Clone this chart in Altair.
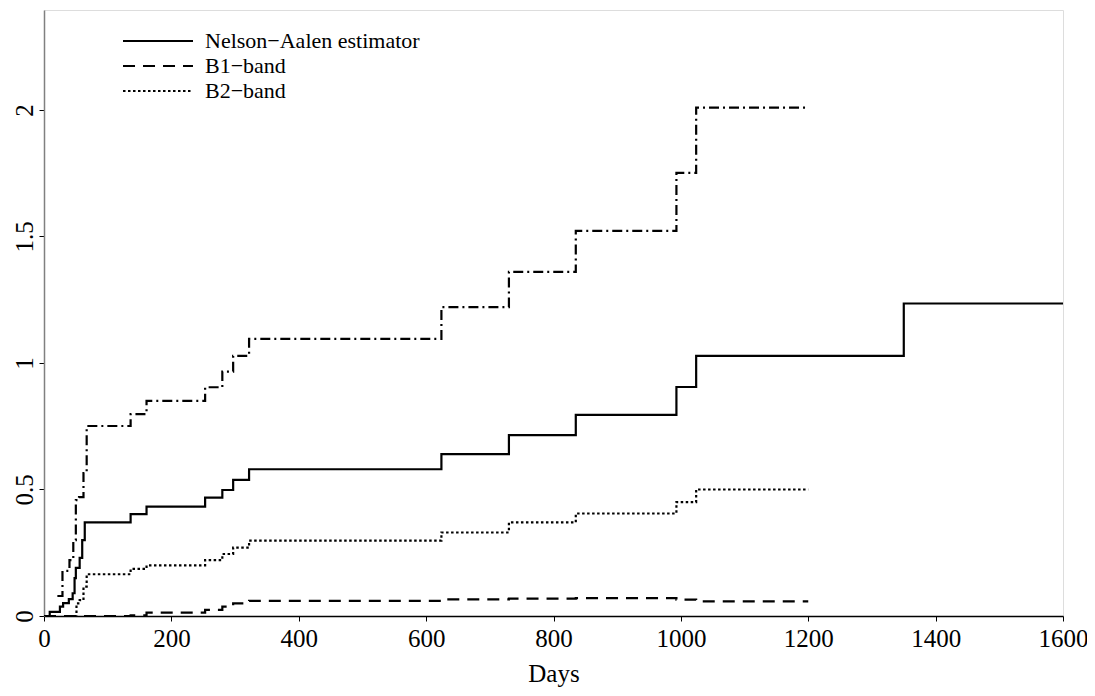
import altair as alt
import pandas as pd

# Nelson-Aalen estimator (step function)
na_days = [0, 9, 25, 30, 39, 45, 48, 50, 56, 60, 64, 136, 161, 253, 280, 297, 322, 624, 730, 835, 993, 1024, 1350, 1600]
na_vals = [0, 0.016, 0.037, 0.051, 0.067, 0.09, 0.15, 0.19, 0.23, 0.30, 0.37, 0.403, 0.432, 0.468, 0.498, 0.538, 0.58, 0.64, 0.715, 0.795, 0.905, 1.028, 1.235, 1.235]

# B1-band lower limit
b1_days = [0, 136, 161, 253, 280, 297, 322, 624, 730, 835, 993, 1024, 1200]
b1_vals = [0, 0.003, 0.013, 0.024, 0.037, 0.05, 0.06, 0.066, 0.069, 0.071, 0.065, 0.058, 0.058]

# B2-band lower limit
b2_days = [48, 51, 56, 62, 67, 136, 161, 253, 280, 297, 322, 624, 730, 835, 993, 1024, 1200]
b2_vals = [0, 0.05, 0.063, 0.116, 0.165, 0.186, 0.2, 0.221, 0.245, 0.27, 0.298, 0.33, 0.37, 0.405, 0.45, 0.50, 0.50]

# Upper limit of the bands
up_days = [21, 29, 40, 46, 50, 55, 62, 67, 136, 161, 253, 280, 297, 322, 624, 730, 835, 993, 1024, 1200]
up_vals = [0.079, 0.178, 0.221, 0.30, 0.458, 0.47, 0.565, 0.751, 0.798, 0.85, 0.904, 0.966, 1.028, 1.095, 1.221, 1.36, 1.522, 1.751, 2.009, 2.009]

x_ticks = [0, 200, 400, 600, 800, 1000, 1200, 1400, 1600]
y_ticks = [0, 0.5, 1, 1.5, 2]

NA = "Nelson\u2212Aalen estimator"
B1 = "B1\u2212band"
B2 = "B2\u2212band"

rows = []
for d, v in zip(na_days, na_vals):
    rows.append({"day": d, "val": v, "series": NA})
for d, v in zip(b1_days, b1_vals):
    rows.append({"day": d, "val": v, "series": B1})
for d, v in zip(b2_days, b2_vals):
    rows.append({"day": d, "val": v, "series": B2})
df = pd.DataFrame(rows)
df_up = pd.DataFrame({"day": up_days, "val": up_vals})

FONT = "Liberation Serif"

xs = alt.X(
    "day:Q",
    scale=alt.Scale(domain=[0, 1600], nice=False, zero=False),
    axis=alt.Axis(
        values=x_ticks, format="d", title="Days", grid=False, labelFlush=False,
        domainColor="black", domainWidth=1.5, tickColor="black", tickSize=5,
        labelFont=FONT, labelFontSize=25, labelColor="black", labelPadding=5,
        titleFont=FONT, titleFontSize=25, titleFontWeight="normal", titleColor="black",
        titlePadding=10,
    ),
)
ys = alt.Y(
    "val:Q",
    scale=alt.Scale(domain=[0, 2.395], nice=False),
    axis=alt.Axis(
        values=y_ticks, labelExpr="format(datum.value, '~g')", title=None, grid=False,
        labelFlush=False,
        domainColor="#808080", domainWidth=1.5, tickColor="black", tickSize=5,
        labelFont=FONT, labelFontSize=25, labelColor="black", labelAngle=270,
        labelAlign="center", labelBaseline="bottom", labelPadding=2,
    ),
)

lines = alt.Chart(df).mark_line(interpolate="step-after", color="black", strokeWidth=2.2, clip=True).encode(
    x=xs,
    y=ys,
    strokeDash=alt.StrokeDash(
        "series:N",
        scale=alt.Scale(domain=[NA, B1, B2], range=[[1, 0], [12, 8], [2.5, 2.5]]),
        legend=alt.Legend(
            title=None, orient="none", legendX=101, legendY=18,
            symbolType="M-3,0H3", symbolSize=544, symbolStrokeWidth=2, symbolStrokeColor="black",
            symbolFillColor="transparent",
            labelFont=FONT, labelFontSize=22, labelColor="black", labelOffset=34,
            labelLimit=0, rowPadding=1, symbolOpacity=1,
        ),
    ),
    detail="series:N",
)

upper = alt.Chart(df_up).mark_line(
    interpolate="step-after", color="black", strokeWidth=2.2, strokeDash=[10, 4, 2, 4], clip=True
).encode(x="day:Q", y="val:Q")

chart = alt.layer(lines, upper).properties(
    width=1019, height=606,
    autosize=alt.AutoSizeParams(type="none"),
    padding={"left": 36, "top": 2, "right": 24, "bottom": 72},
).configure_view(stroke="#808080", strokeWidth=1.5).configure(background="white")

chart.save("out.html", embed_options={"renderer": "svg", "actions": False})
